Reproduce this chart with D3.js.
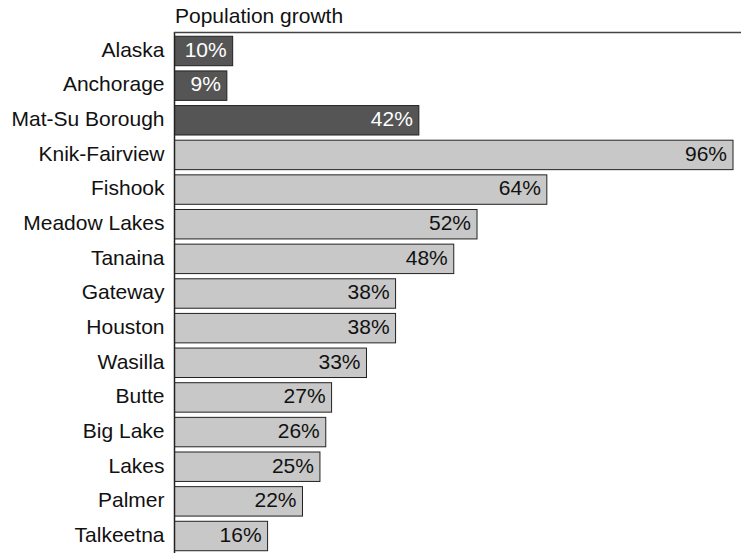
<!DOCTYPE html>
<html>
<head>
<meta charset="utf-8">
<script src="https://cdn.jsdelivr.net/npm/d3@7"></script>
<style>
  body { margin: 0; background: #fff; }
  text { font-family: "Liberation Sans", Arial, sans-serif; }
</style>
</head>
<body>
<svg id="chart" width="741" height="553"></svg>
<script>
const categories = ["Alaska", "Anchorage", "Mat-Su Borough", "Knik-Fairview", "Fishook", "Meadow Lakes", "Tanaina", "Gateway", "Houston", "Wasilla", "Butte", "Big Lake", "Lakes", "Palmer", "Talkeetna"];
const growth = [10, 9, 42, 96, 64, 52, 48, 38, 38, 33, 27, 26, 25, 22, 16];
const highlighted = ["Alaska", "Anchorage", "Mat-Su Borough"];
const title = "Population growth";

const data = categories.map((c, i) => ({ name: c, value: growth[i] }));

const svg = d3.select("#chart");
const mLeft = 174.5, mTop = 33, mRight = 741, mBottom = 553;
const fs = 21;

const x = d3.scaleLinear().domain([0, 96]).range([mLeft, 733]);
const y = d3.scaleBand().domain(categories).range([mTop, mBottom]).paddingInner(0.15).paddingOuter(0.08);

svg.append("text")
  .attr("x", mLeft + 0.5).attr("y", 23)
  .attr("font-size", fs).attr("fill", "#111")
  .text(title);

const g = svg.append("g");
g.selectAll("rect").data(data).enter().append("rect")
  .attr("x", x(0))
  .attr("y", d => y(d.name) + 0.5)
  .attr("width", d => x(d.value) - x(0))
  .attr("height", y.bandwidth())
  .attr("fill", d => highlighted.includes(d.name) ? "#555555" : "#c8c8c8")
  .attr("stroke", "#222")
  .attr("stroke-width", 1);

g.selectAll("text.val").data(data).enter().append("text")
  .attr("class", "val")
  .attr("x", d => x(d.value) - 6)
  .attr("y", d => y(d.name) + y.bandwidth() / 2)
  .attr("dy", "0.3em")
  .attr("text-anchor", "end")
  .attr("font-size", fs)
  .attr("fill", d => highlighted.includes(d.name) ? "#fff" : "#111")
  .text(d => d.value + "%");

const yAxis = d3.axisLeft(y).tickSize(0).tickPadding(10);
const ax = svg.append("g").attr("transform", `translate(${mLeft},0)`).call(yAxis);
ax.select(".domain").remove();
ax.selectAll("text").attr("font-size", fs).attr("fill", "#111").attr("dy", "0.3em")
  .attr("font-family", "Liberation Sans, Arial, sans-serif");

svg.append("line")
  .attr("x1", mLeft).attr("x2", mLeft).attr("y1", mTop - 1).attr("y2", mBottom)
  .attr("stroke", "#222").attr("stroke-width", 1.5);
svg.append("line")
  .attr("x1", mLeft - 0.5).attr("x2", mRight).attr("y1", mTop - 0.5).attr("y2", mTop - 0.5)
  .attr("stroke", "#444").attr("stroke-width", 1.5);
</script>
</body>
</html>
